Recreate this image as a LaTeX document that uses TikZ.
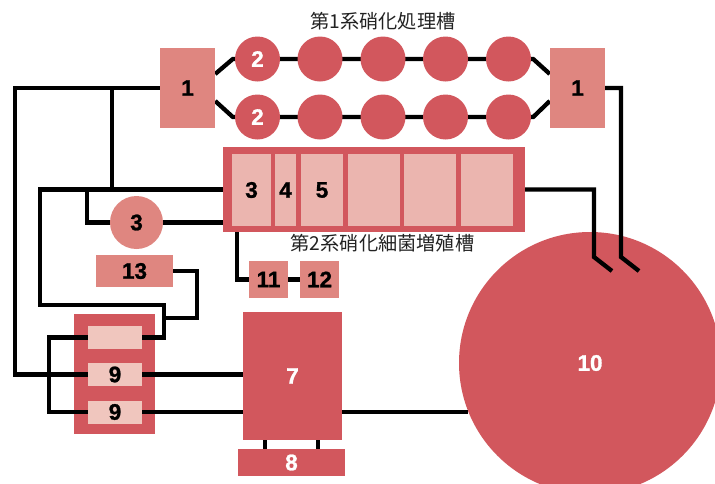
\documentclass[tikz,border=0pt]{standalone}
\usepackage{fontspec}
\setmainfont{Liberation Sans}[BoldFeatures={FakeBold=1.2}]
\newfontfamily\cjk{Noto Sans CJK JP}
\usetikzlibrary{calc}
\pgfdeclarelayer{bgbox}
\pgfdeclarelayer{wires}
\pgfsetlayers{bgbox,wires,main}
\definecolor{dred}{HTML}{D2575D}
\definecolor{lred}{HTML}{DF8680}
\definecolor{pale}{HTML}{EBB5AF}
\definecolor{paleb}{HTML}{F0C6BE}
\definecolor{ttl}{HTML}{222222}
\tikzset{
  num/.style={font=\bfseries\fontsize{22.5}{22.5}\selectfont},
  lbox/.style={rectangle, fill=lred, inner sep=0pt, num, text=black},
  dbox/.style={rectangle, fill=dred, inner sep=0pt, num, text=white},
  cell/.style={rectangle, fill=pale, inner sep=0pt, num, text=black, minimum height=72pt},
  cellb/.style={rectangle, fill=paleb, inner sep=0pt, num, text=black, minimum width=54pt, minimum height=23pt},
  dcirc/.style={circle, fill=dred, inner sep=0pt, minimum size=45pt, num, text=white},
  wire/.style={line width=4.3pt, black},
  ttlstyle/.style={font=\cjk\fontsize{19.2}{19.2}\selectfont, text=ttl, inner sep=0pt}
}
\begin{document}
\begin{tikzpicture}[x=1pt,y=-1pt]
\useasboundingbox (0,0) rectangle (715,483);
\clip (0,0) rectangle (715,483);

% titles
\node[ttlstyle] (t1) at (383,21.5) {第1系硝化処理槽};
\node[ttlstyle] (t2) at (382.5,243) {第2系硝化細菌増殖槽};

% boxes 1
\node[lbox, minimum width=55pt, minimum height=80pt] (b1l) at (187.5,88) {1};
\node[lbox, minimum width=55pt, minimum height=80pt] (b1r) at (577.5,88) {1};

% first system circles
\node[dcirc] (ta1) at (257.5,59) {2};
\node[dcirc] (ta2) at (320,59) {};
\node[dcirc] (ta3) at (383,59) {};
\node[dcirc] (ta4) at (445.5,59) {};
\node[dcirc] (ta5) at (508.5,59) {};
\node[dcirc] (tb1) at (257.5,117) {2};
\node[dcirc] (tb2) at (320,117) {};
\node[dcirc] (tb3) at (383,117) {};
\node[dcirc] (tb4) at (445.5,117) {};
\node[dcirc] (tb5) at (508.5,117) {};

% second system tank
\node[dbox, minimum width=302pt, minimum height=85pt] (tank) at (374,189.5) {};
\node[cell, minimum width=39pt] (k1) at (251.5,190) {3};
\node[cell, minimum width=21pt] (k2) at (285.5,190) {4};
\node[cell, minimum width=42pt] (k3) at (322,190) {5};
\node[cell, minimum width=52pt] (k4) at (374,190) {};
\node[cell, minimum width=52pt] (k5) at (430,190) {};
\node[cell, minimum width=52pt] (k6) at (487,190) {};

% circle 3, boxes 13, 11, 12
\node[circle, fill=lred, inner sep=0pt, minimum size=53pt, num, text=black] (c3) at (136.5,222.5) {3};
\node[lbox, minimum width=77pt, minimum height=32pt] (b13) at (134.5,271) {13};
\node[lbox, minimum width=39pt, minimum height=37pt] (b11) at (268.5,279.5) {11};
\node[lbox, minimum width=39pt, minimum height=37pt] (b12) at (319.5,279.5) {12};

% box 9 group and tank 10
\begin{pgfonlayer}{bgbox}
\node[dbox, minimum width=81pt, minimum height=120pt] (b9) at (114.5,374) {};
\node[circle, fill=dred, inner sep=0pt, minimum size=262pt, num, text=white] (c10) at (590,363) {10};
\end{pgfonlayer}
\node[cellb] (n9t) at (115,337.5) {};
\node[cellb] (n9m) at (115,374.5) {9};
\node[cellb] (n9b) at (115,412) {9};

% boxes 7, 8
\node[dbox, minimum width=99pt, minimum height=128pt] (b7) at (292.5,376) {7};
\node[dbox, minimum width=107pt, minimum height=27pt] (b8) at (291.5,462.5) {8};

% helper columns
\coordinate (x15) at (15,0);
\coordinate (x40) at (40,0);
\coordinate (x49) at (49,0);
\coordinate (x87) at (87,0);
\coordinate (x112) at (112,0);
\coordinate (x164) at (164,0);
\coordinate (x197) at (197,0);
\coordinate (x237) at (237,0);
\coordinate (x265) at (265,0);
\coordinate (x318) at (318,0);
\coordinate (y305) at (0,305);
\coordinate (y318) at (0,318);
\coordinate (p1) at (612,271);
\coordinate (p2) at (639,271);

\begin{pgfonlayer}{wires}
% first system chains
\draw[wire] ($(b1l.east)+(0,-14)$) -- ($(ta1.west)+(-2,0)$) -- ($(ta5.east)+(2,0)$) -- ($(b1r.west)+(0,-14)$);
\draw[wire] ($(b1l.east)+(0,13)$) -- ($(tb1.west)+(-2,0)$) -- ($(tb5.east)+(2,0)$) -- ($(b1r.west)+(0,13)$);
% left supply lines
\draw[wire] (b1l.west) -| (x15 |- n9m.west) -- (n9m.west);
\draw[wire] (b1l.west -| x112) -- (tank.west -| x112);
\draw[wire] (tank.west) -| (x40 |- y305) -| (x164 |- n9t.east) -- (n9t.east);
\draw[wire] (c3.east) -- (c3.east -| tank.west);
\draw[wire] (c3.west) -| (x87 |- tank.west);
\draw[wire] (b13.east) -| (x197 |- y318) -- (x164 |- y318);
\draw[wire] (n9t.west) -| (x49 |- n9b.west) -- (n9b.west);
% 9 to 7
\draw[wire] (n9m.east) -- (n9m.east -| b7.west);
\draw[wire] (n9b.east) -- (n9b.east -| b7.west);
% 7 to 8
\draw[wire] (b7.south -| x265) -- (b8.north -| x265);
\draw[wire] (b7.south -| x318) -- (b8.north -| x318);
% 7 to 10
\draw[wire] (n9b.east -| b7.east) -- (c10.202 |- n9b.east);
% tank to 11, 12
\draw[wire] (tank.south -| x237) |- (b11.west);
\draw[wire] (b11.east) -- (b12.west);
\end{pgfonlayer}
% pipes into 10
\draw[wire] (tank.east) -| ($(p1)+(-18,-14)$) -- (p1);
\draw[wire] (b1r.east) -| ($(p2)+(-18,-14)$) -- (p2);
\end{tikzpicture}
\end{document}
